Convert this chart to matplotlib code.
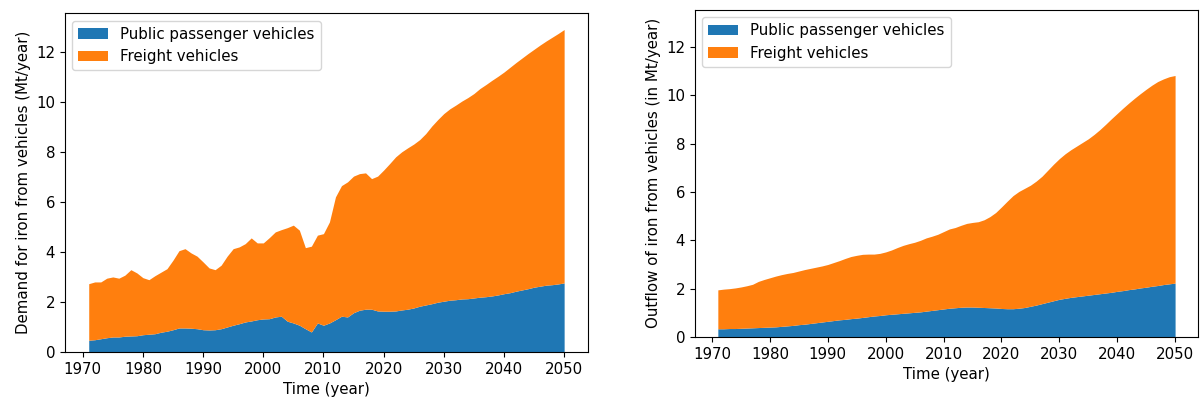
import matplotlib.pyplot as plt
import numpy as np

years = np.arange(1971, 2051)

# Demand (inflow) - public passenger vehicles, Mt/year
demand_public = [
    0.47, 0.49, 0.53, 0.57, 0.60, 0.60, 0.63, 0.64, 0.65, 0.69,
    0.71, 0.73, 0.79, 0.83, 0.89, 0.96, 0.96, 0.95, 0.93, 0.89,
    0.88, 0.89, 0.93, 1.00, 1.07, 1.13, 1.20, 1.24, 1.29, 1.32,
    1.33, 1.40, 1.43, 1.23, 1.16, 1.07, 0.93, 0.80, 1.16, 1.07,
    1.16, 1.29, 1.43, 1.40, 1.57, 1.67, 1.71, 1.71, 1.64, 1.63,
    1.63, 1.64, 1.68, 1.71, 1.76, 1.83, 1.88, 1.93, 1.99, 2.03,
    2.07, 2.09, 2.12, 2.13, 2.16, 2.19, 2.21, 2.24, 2.28, 2.33,
    2.37, 2.43, 2.48, 2.53, 2.59, 2.63, 2.67, 2.69, 2.72, 2.76,
]
# Demand - total of both (top of the freight area)
demand_total = [
    2.73, 2.80, 2.80, 2.95, 3.00, 2.95, 3.07, 3.29, 3.16, 2.97,
    2.89, 3.05, 3.19, 3.33, 3.67, 4.05, 4.13, 3.96, 3.83, 3.60,
    3.36, 3.29, 3.47, 3.83, 4.13, 4.20, 4.33, 4.56, 4.36, 4.36,
    4.57, 4.80, 4.89, 4.97, 5.07, 4.87, 4.17, 4.23, 4.67, 4.73,
    5.20, 6.20, 6.65, 6.80, 7.03, 7.13, 7.16, 6.93, 7.03, 7.27,
    7.53, 7.80, 8.00, 8.16, 8.31, 8.49, 8.73, 9.03, 9.29, 9.53,
    9.72, 9.87, 10.03, 10.17, 10.33, 10.53, 10.69, 10.86, 11.02, 11.19,
    11.38, 11.57, 11.75, 11.93, 12.10, 12.27, 12.43, 12.58, 12.73, 12.89,
]

# Outflow - public passenger vehicles
outflow_public = [
    0.34, 0.34, 0.35, 0.35, 0.36, 0.37, 0.38, 0.39, 0.40, 0.41,
    0.42, 0.44, 0.46, 0.48, 0.51, 0.53, 0.56, 0.59, 0.62, 0.65,
    0.68, 0.71, 0.73, 0.76, 0.78, 0.81, 0.84, 0.87, 0.89, 0.92,
    0.94, 0.96, 0.98, 1.00, 1.02, 1.04, 1.07, 1.10, 1.13, 1.16,
    1.19, 1.21, 1.23, 1.24, 1.24, 1.23, 1.22, 1.21, 1.20, 1.18,
    1.17, 1.17, 1.19, 1.22, 1.27, 1.32, 1.38, 1.44, 1.50, 1.56,
    1.60, 1.64, 1.67, 1.70, 1.73, 1.76, 1.79, 1.82, 1.85, 1.89,
    1.92, 1.96, 1.99, 2.03, 2.06, 2.10, 2.13, 2.17, 2.20, 2.23,
]
# Outflow - total of both
outflow_total = [
    1.95, 1.98, 2.00, 2.03, 2.07, 2.12, 2.18, 2.30, 2.38, 2.45,
    2.52, 2.58, 2.63, 2.67, 2.73, 2.79, 2.84, 2.89, 2.94, 3.00,
    3.08, 3.16, 3.25, 3.33, 3.38, 3.42, 3.43, 3.43, 3.46, 3.52,
    3.60, 3.70, 3.79, 3.86, 3.92, 4.00, 4.10, 4.17, 4.25, 4.36,
    4.47, 4.53, 4.62, 4.70, 4.74, 4.77, 4.85, 4.98, 5.15, 5.38,
    5.62, 5.85, 6.02, 6.15, 6.28, 6.45, 6.65, 6.90, 7.15, 7.38,
    7.58, 7.75, 7.90, 8.05, 8.20, 8.38, 8.58, 8.80, 9.03, 9.25,
    9.47, 9.68, 9.88, 10.07, 10.25, 10.42, 10.57, 10.68, 10.77, 10.82,
]

labels = ['Public passenger vehicles', 'Freight vehicles']

plt.rcParams['font.size'] = 10.8

fig = plt.figure(figsize=(12.03, 4.03), dpi=100)
ax1 = fig.add_axes([0.054, 0.1266, 0.4347, 0.8411])
ax2 = fig.add_axes([0.5777, 0.1638, 0.4181, 0.8126])

# Left: demand
ax1.fill_between(years, 0, demand_public, color='tab:blue', lw=0, label=labels[0])
ax1.fill_between(years, demand_public, demand_total, color='tab:orange', lw=0, label=labels[1])
ax1.set_xlim(1967.05, 2053.95)
ax1.set_ylim(0, 13.55)
ax1.set_xlabel('Time (year)')
ax1.set_ylabel('Demand for iron from vehicles (Mt/year)')
ax1.legend(loc='upper left')

# Right: outflow
ax2.fill_between(years, 0, outflow_public, color='tab:blue', lw=0, label=labels[0])
ax2.fill_between(years, outflow_public, outflow_total, color='tab:orange', lw=0, label=labels[1])
ax2.set_xlim(1967.05, 2053.95)
ax2.set_ylim(0, 13.55)
ax2.set_xlabel('Time (year)')
ax2.set_ylabel('Outflow of iron from vehicles (in Mt/year)')
ax2.legend(loc='upper left')

fig.savefig('out.png', dpi=100)
